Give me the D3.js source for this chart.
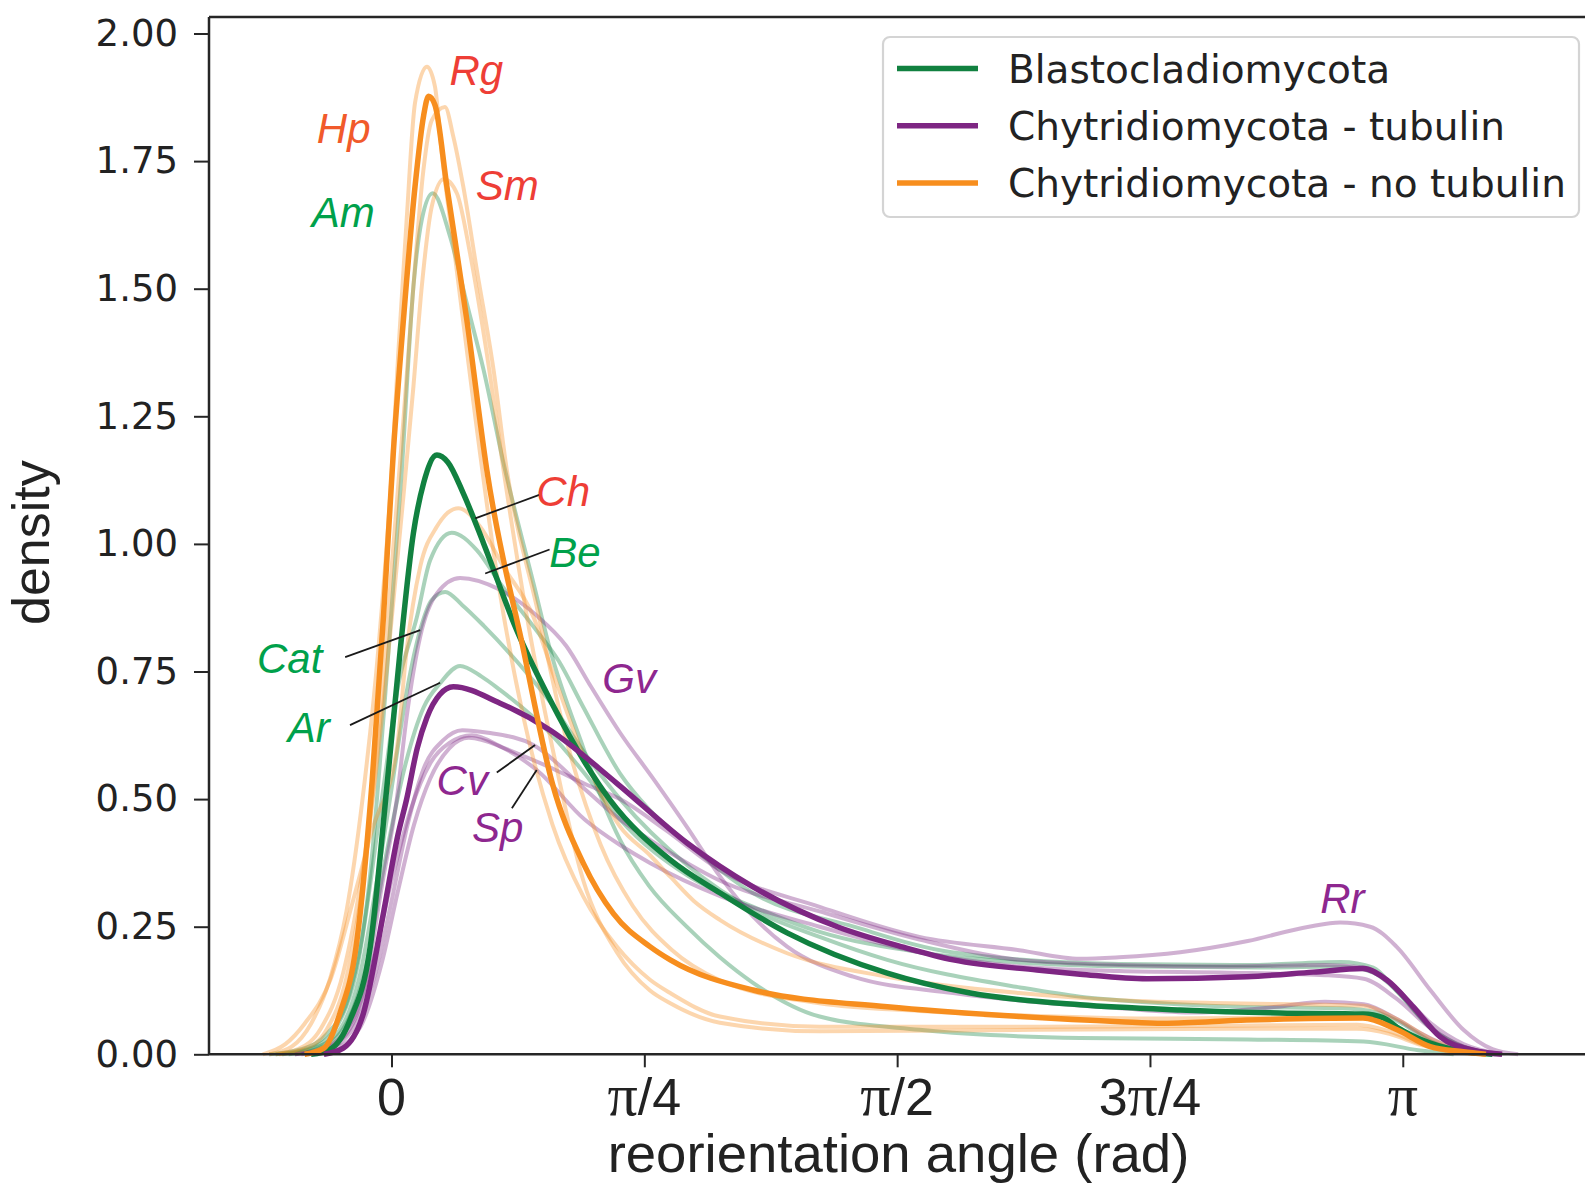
<!DOCTYPE html>
<html>
<head>
<meta charset="utf-8">
<script src="https://cdn.jsdelivr.net/npm/d3@7"></script>
<style>
  html, body { margin: 0; padding: 0; background: #fff; }
  svg { display: block; }
</style>
</head>
<body>
<svg id="chart" width="1585" height="1186"></svg>
<script>
// ---------------- DATA (x = reorientation angle in rad, y = density) ----------------
// Group means (thick lines)
const blastoMean = [[-0.25,0],[-0.19,0.01],[-0.129,0.067],[-0.066,0.211],[-0.015,0.52],[0.027,0.792],[0.068,1.021],[0.1,1.12],[0.141,1.174],[0.175,1.16],[0.223,1.099],[0.286,1.001],[0.389,0.831],[0.493,0.694],[0.679,0.498],[0.866,0.381],[1.021,0.316],[1.229,0.238],[1.54,0.159],[1.798,0.12],[2.139,0.097],[2.45,0.087],[2.76,0.081],[3.018,0.079],[3.08,0.072],[3.124,0.053],[3.227,0.022],[3.33,0.006],[3.42,0]];
const tubulinMean = [[-0.21,0],[-0.15,0.012],[-0.087,0.081],[-0.025,0.277],[0.02,0.43],[0.047,0.5],[0.08,0.6],[0.11,0.66],[0.15,0.705],[0.192,0.72],[0.337,0.688],[0.493,0.635],[0.7,0.531],[0.918,0.414],[1.123,0.328],[1.385,0.25],[1.59,0.21],[1.745,0.185],[2.005,0.165],[2.139,0.157],[2.347,0.148],[2.657,0.152],[2.863,0.161],[3.018,0.168],[3.093,0.145],[3.174,0.093],[3.258,0.034],[3.36,0.008],[3.45,0]];
const noTubulinMean = [[-0.27,0],[-0.21,0.012],[-0.16,0.081],[-0.11,0.211],[-0.06,0.537],[-0.025,0.857],[0.006,1.183],[0.037,1.439],[0.073,1.7],[0.1,1.84],[0.115,1.877],[0.135,1.86],[0.172,1.7],[0.234,1.439],[0.296,1.145],[0.41,0.792],[0.5,0.53],[0.596,0.374],[0.69,0.275],[0.803,0.211],[0.866,0.185],[1.123,0.126],[1.54,0.093],[1.953,0.074],[2.263,0.064],[2.397,0.061],[2.657,0.067],[3.018,0.071],[3.124,0.048],[3.227,0.015],[3.33,0.005],[3.4,0]];

// Individual species, Blastocladiomycota
const amCurve = [[-0.38,0],[-0.28,0.01],[-0.2,0.04],[-0.13,0.12],[-0.07,0.33],[-0.02,0.7],[0.032,1.145],[0.068,1.504],[0.094,1.635],[0.128,1.687],[0.182,1.602],[0.234,1.471],[0.286,1.341],[0.348,1.158],[0.441,0.923],[0.493,0.792],[0.596,0.6],[0.66,0.49],[0.71,0.42],[0.8,0.33],[0.917,0.25],[1.02,0.19],[1.123,0.14],[1.33,0.074],[1.64,0.048],[2.139,0.032],[2.66,0.029],[3.02,0.025],[3.19,0.008],[3.3,0]];
const beCurve = [[-0.36,0],[-0.26,0.01],[-0.18,0.045],[-0.11,0.16],[-0.03,0.5],[0.02,0.72],[0.079,0.857],[0.12,0.968],[0.187,1.022],[0.265,0.988],[0.337,0.923],[0.441,0.838],[0.52,0.77],[0.596,0.68],[0.71,0.55],[0.8,0.48],[0.918,0.414],[1.123,0.316],[1.436,0.25],[1.74,0.2],[2.26,0.177],[2.66,0.175],[2.95,0.181],[3.05,0.17],[3.12,0.126],[3.227,0.053],[3.33,0.015],[3.43,0]];
const catCurve = [[-0.34,0],[-0.25,0.01],[-0.17,0.04],[-0.1,0.15],[-0.04,0.36],[0.0,0.52],[0.05,0.72],[0.089,0.831],[0.125,0.89],[0.167,0.906],[0.22,0.88],[0.286,0.84],[0.389,0.77],[0.493,0.69],[0.6,0.59],[0.71,0.5],[0.92,0.37],[1.123,0.283],[1.33,0.23],[1.54,0.185],[1.953,0.131],[2.139,0.113],[2.26,0.106],[2.63,0.093],[2.95,0.09],[3.06,0.082],[3.14,0.06],[3.23,0.025],[3.33,0.006],[3.42,0]];
const arCurve = [[-0.32,0],[-0.23,0.01],[-0.15,0.05],[-0.08,0.17],[-0.02,0.38],[0.04,0.56],[0.1,0.68],[0.151,0.727],[0.213,0.761],[0.28,0.74],[0.337,0.714],[0.493,0.629],[0.6,0.55],[0.71,0.46],[0.92,0.35],[1.12,0.29],[1.33,0.24],[1.64,0.2],[1.95,0.18],[2.3,0.172],[2.7,0.17],[2.95,0.172],[3.05,0.16],[3.13,0.12],[3.23,0.05],[3.33,0.013],[3.43,0]];

// Individual species, Chytridiomycota with tubulin
const gvCurve = [[-0.3,0],[-0.22,0.01],[-0.15,0.04],[-0.08,0.14],[-0.03,0.33],[0.016,0.498],[0.047,0.661],[0.089,0.818],[0.141,0.903],[0.213,0.933],[0.337,0.91],[0.45,0.86],[0.543,0.8],[0.62,0.72],[0.71,0.63],[0.813,0.54],[0.917,0.446],[1.021,0.348],[1.123,0.27],[1.229,0.211],[1.434,0.152],[1.745,0.12],[2.264,0.09],[2.5,0.082],[2.75,0.093],[2.9,0.103],[3.02,0.098],[3.12,0.07],[3.2,0.04],[3.3,0.012],[3.4,0]];
const cvCurve = [[-0.28,0],[-0.2,0.01],[-0.12,0.05],[-0.05,0.16],[0.0,0.3],[0.05,0.45],[0.1,0.56],[0.16,0.615],[0.22,0.635],[0.3,0.63],[0.441,0.606],[0.6,0.52],[0.71,0.46],[0.803,0.42],[1.021,0.34],[1.33,0.28],[1.64,0.225],[1.95,0.185],[2.26,0.175],[2.6,0.172],[2.9,0.175],[3.02,0.17],[3.12,0.13],[3.23,0.06],[3.33,0.02],[3.45,0]];
const spCurve = [[-0.26,0],[-0.18,0.01],[-0.1,0.05],[-0.03,0.18],[0.02,0.32],[0.07,0.45],[0.12,0.54],[0.18,0.6],[0.24,0.62],[0.33,0.605],[0.451,0.557],[0.6,0.46],[0.71,0.41],[0.803,0.375],[1.021,0.31],[1.33,0.25],[1.64,0.2],[1.95,0.172],[2.26,0.163],[2.6,0.16],[2.9,0.155],[3.02,0.148],[3.12,0.11],[3.23,0.05],[3.33,0.015],[3.45,0]];
const rrCurve = [[-0.3,0],[-0.2,0.012],[-0.12,0.06],[-0.05,0.2],[0.0,0.34],[0.06,0.48],[0.12,0.57],[0.18,0.61],[0.25,0.625],[0.35,0.6],[0.5,0.56],[0.6,0.53],[0.71,0.5],[0.85,0.44],[1.02,0.361],[1.33,0.289],[1.64,0.23],[1.95,0.204],[2.139,0.187],[2.26,0.19],[2.45,0.2],[2.66,0.222],[2.85,0.25],[2.947,0.258],[3.04,0.25],[3.122,0.211],[3.227,0.126],[3.33,0.048],[3.42,0.01],[3.5,0]];

// Individual species, Chytridiomycota without tubulin
const rgCurve = [[-0.38,0],[-0.31,0.015],[-0.25,0.06],[-0.19,0.15],[-0.14,0.28],[-0.09,0.5],[-0.04,0.8],[0.001,1.145],[0.021,1.374],[0.047,1.635],[0.073,1.864],[0.11,1.935],[0.135,1.896],[0.156,1.766],[0.2,1.55],[0.26,1.25],[0.33,0.93],[0.41,0.66],[0.5,0.45],[0.596,0.309],[0.7,0.211],[0.803,0.146],[0.866,0.12],[1.02,0.074],[1.33,0.054],[2.0,0.054],[2.6,0.056],[3.0,0.058],[3.1,0.045],[3.2,0.02],[3.3,0.005],[3.4,0]];
const hpCurve = [[-0.35,0],[-0.27,0.01],[-0.2,0.05],[-0.14,0.15],[-0.08,0.38],[-0.03,0.7],[0.0,0.95],[0.037,1.243],[0.068,1.504],[0.099,1.732],[0.125,1.83],[0.166,1.856],[0.192,1.798],[0.223,1.7],[0.265,1.537],[0.317,1.341],[0.358,1.145],[0.45,0.88],[0.55,0.6],[0.65,0.41],[0.75,0.29],[0.87,0.205],[1.02,0.145],[1.33,0.1],[1.64,0.085],[2.0,0.075],[2.4,0.07],[2.8,0.072],[3.02,0.072],[3.12,0.05],[3.22,0.018],[3.33,0.004],[3.42,0]];
const smCurve = [[-0.36,0],[-0.29,0.01],[-0.22,0.05],[-0.15,0.16],[-0.09,0.36],[-0.04,0.6],[0.0,0.85],[0.035,1.08],[0.068,1.308],[0.094,1.504],[0.125,1.661],[0.163,1.715],[0.203,1.687],[0.244,1.569],[0.296,1.373],[0.348,1.145],[0.42,0.86],[0.5,0.6],[0.596,0.34],[0.7,0.2],[0.803,0.125],[0.866,0.1],[1.02,0.062],[1.33,0.045],[2.0,0.048],[2.6,0.05],[3.0,0.05],[3.1,0.04],[3.2,0.018],[3.3,0.004],[3.4,0]];
const chCurve = [[-0.4,0],[-0.33,0.02],[-0.27,0.06],[-0.19,0.146],[-0.12,0.3],[-0.06,0.44],[0.016,0.596],[0.047,0.792],[0.089,0.955],[0.141,1.034],[0.208,1.07],[0.275,1.034],[0.348,0.955],[0.441,0.857],[0.5,0.75],[0.6,0.58],[0.71,0.446],[0.803,0.39],[0.866,0.348],[0.94,0.3],[1.021,0.263],[1.229,0.198],[1.54,0.152],[1.95,0.12],[2.26,0.106],[2.6,0.1],[2.9,0.097],[3.02,0.095],[3.12,0.07],[3.23,0.03],[3.35,0.005],[3.45,0]];

// Legend
const legendNames = ["Blastocladiomycota", "Chytridiomycota - tubulin", "Chytridiomycota - no tubulin"];
const groupColors = ["#118140", "#7e2683", "#f78e1e"];

// Axis ticks
const yTickValues = [0, 0.25, 0.5, 0.75, 1.0, 1.25, 1.5, 1.75, 2.0];
const xTickValues = [0, Math.PI / 4, Math.PI / 2, 3 * Math.PI / 4, Math.PI];
const xTickLabels = ["0", "π/4", "π/2", "3π/4", "π"];

// Species labels: name, colour, x, y (data coords of text start / baseline)
const speciesNames = ["Rg", "Hp", "Sm", "Am", "Ch", "Be", "Cat", "Ar", "Gv", "Cv", "Sp", "Rr"];
const speciesLabelColors = ["#ee3e36", "#f15a2b", "#ee3e36", "#00a14b", "#ee3e36", "#00a14b", "#00a14b", "#00a14b", "#8e278f", "#8e278f", "#8e278f", "#8e278f"];
const speciesLabelX = [0.18, -0.232, 0.262, -0.248, 0.45, 0.49, -0.418, -0.322, 0.655, 0.14, 0.25, 2.885];
const speciesLabelY = [1.899, 1.785, 1.674, 1.621, 1.074, 0.955, 0.747, 0.612, 0.708, 0.508, 0.415, 0.277];
// Leader lines: [x1, y1, x2, y2] in data units
const leaderLines = [
  [0.459, 1.096, 0.26, 1.05],   // Ch
  [0.491, 0.989, 0.291, 0.942], // Be
  [-0.144, 0.778, 0.089, 0.831],// Cat
  [-0.129, 0.645, 0.151, 0.728],// Ar
  [0.327, 0.552, 0.446, 0.606], // Cv
  [0.374, 0.482, 0.451, 0.557]  // Sp
];

// ---------------- DRAWING ----------------
const svg = d3.select("#chart");
const mLeft = 209, mRight = 1588, mTop = 17, mBottom = 1054.3;
const x = d3.scaleLinear().domain([-0.567, 3.717]).range([mLeft, mRight]);
const y = d3.scaleLinear().domain([0, 2]).range([mBottom, 33.5]);

const line = d3.line().x(d => x(d[0])).y(d => y(d[1])).curve(d3.curveMonotoneX);

const lightGroups = [
  { color: groupColors[0], curves: [amCurve, beCurve, catCurve, arCurve] },
  { color: groupColors[1], curves: [gvCurve, cvCurve, spCurve, rrCurve] },
  { color: groupColors[2], curves: [rgCurve, hpCurve, smCurve, chCurve] }
];
const plot = svg.append("g");
lightGroups.forEach(g => {
  g.curves.forEach(c => {
    plot.append("path").attr("d", line(c)).attr("fill", "none")
      .attr("stroke", g.color).attr("stroke-opacity", 0.36)
      .attr("stroke-width", 4).attr("stroke-linejoin", "round");
  });
});
[blastoMean, tubulinMean, noTubulinMean].forEach((c, i) => {
  plot.append("path").attr("d", line(c)).attr("fill", "none")
    .attr("stroke", groupColors[i]).attr("stroke-width", 5.5)
    .attr("stroke-linejoin", "round");
});

// Leader lines
plot.selectAll("line.leader").data(leaderLines).enter().append("line")
  .attr("class", "leader")
  .attr("x1", d => x(d[0])).attr("y1", d => y(d[1]))
  .attr("x2", d => x(d[2])).attr("y2", d => y(d[3]))
  .attr("stroke", "#1a1a1a").attr("stroke-width", 1.8);

// Species labels
speciesNames.forEach((n, i) => {
  plot.append("text").attr("x", x(speciesLabelX[i])).attr("y", y(speciesLabelY[i]))
    .attr("font-family", "'Liberation Sans', Arial, sans-serif")
    .attr("font-style", "italic").attr("font-size", 42)
    .attr("fill", speciesLabelColors[i]).text(n);
});

// Spines
const spineColor = "#262626";
svg.append("line").attr("x1", mLeft).attr("x2", mLeft).attr("y1", mTop).attr("y2", mBottom)
  .attr("stroke", spineColor).attr("stroke-width", 2.5);
svg.append("line").attr("x1", mLeft).attr("x2", mRight).attr("y1", mTop).attr("y2", mTop)
  .attr("stroke", spineColor).attr("stroke-width", 2.5);
svg.append("line").attr("x1", mLeft).attr("x2", mRight).attr("y1", mBottom).attr("y2", mBottom)
  .attr("stroke", spineColor).attr("stroke-width", 2.5);

// Y axis
const yAxis = d3.axisLeft(y).tickValues(yTickValues).tickFormat(d3.format(".2f"))
  .tickSize(15).tickPadding(16);
const yg = svg.append("g").attr("transform", `translate(${mLeft},0)`).call(yAxis);
yg.select(".domain").remove();
yg.selectAll(".tick line").attr("stroke", spineColor).attr("stroke-width", 2);
yg.selectAll(".tick text").attr("font-family", "'DejaVu Sans', sans-serif")
  .attr("font-size", 37).attr("fill", "#222");

// X axis
const xAxis = d3.axisBottom(x).tickValues(xTickValues).tickFormat(() => "").tickSize(13);
const xg = svg.append("g").attr("transform", `translate(0,${mBottom})`).call(xAxis);
xg.select(".domain").remove();
xg.selectAll(".tick line").attr("stroke", spineColor).attr("stroke-width", 2);
xTickValues.forEach((v, i) => {
  const t = svg.append("text").attr("x", x(v)).attr("y", 1115)
    .attr("text-anchor", "middle").attr("fill", "#222")
    .attr("font-family", "'Liberation Sans', Arial, sans-serif").attr("font-size", 52);
  for (const ch of xTickLabels[i]) {
    const ts = t.append("tspan").text(ch);
    if (ch === "π") ts.attr("font-family", "'Liberation Serif', 'Times New Roman', serif").attr("font-size", 60);
  }
});

// Axis titles
svg.append("text").attr("x", (mLeft + mRight) / 2).attr("y", 1172)
  .attr("text-anchor", "middle").attr("fill", "#222")
  .attr("font-family", "'Liberation Sans', Arial, sans-serif").attr("font-size", 54.5)
  .text("reorientation angle (rad)");
svg.append("text").attr("transform", `translate(49,${(mTop + mBottom) / 2 + 7}) rotate(-90)`)
  .attr("text-anchor", "middle").attr("fill", "#222")
  .attr("font-family", "'Liberation Sans', Arial, sans-serif").attr("font-size", 52)
  .text("density");

// Legend
const lg = svg.append("g");
lg.append("rect").attr("x", 883).attr("y", 37).attr("width", 696).attr("height", 180)
  .attr("rx", 7).attr("fill", "#fff").attr("fill-opacity", 0.85)
  .attr("stroke", "#d4d4d4").attr("stroke-width", 2.2);
legendNames.forEach((n, i) => {
  const ly = 68.5 + i * 57.2;
  lg.append("line").attr("x1", 897).attr("x2", 978).attr("y1", ly).attr("y2", ly)
    .attr("stroke", groupColors[i]).attr("stroke-width", 5.5);
  lg.append("text").attr("x", 1008).attr("y", ly + 14.5)
    .attr("font-family", "'DejaVu Sans', sans-serif").attr("font-size", 39)
    .attr("fill", "#222").text(n);
});
</script>
</body>
</html>
